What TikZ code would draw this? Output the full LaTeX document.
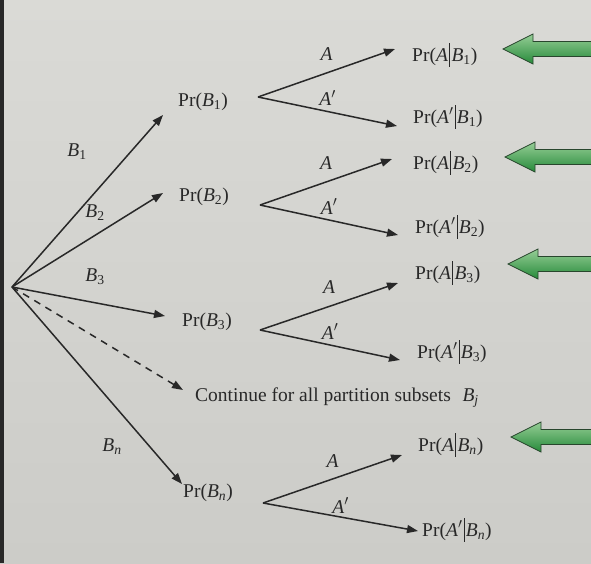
\documentclass[tikz,border=0pt]{standalone}
\usepackage{fontspec}
\setmainfont{Liberation Serif}
\usetikzlibrary{arrows.meta,positioning,calc}
\definecolor{papertop}{RGB}{218,218,214}
\definecolor{paperbot}{RGB}{204,204,200}
\definecolor{pageedge}{RGB}{40,40,40}
\definecolor{ink}{RGB}{40,40,40}
\definecolor{greenlight}{RGB}{150,206,150}
\definecolor{greendark}{RGB}{38,138,58}
\definecolor{greenedge}{RGB}{40,70,45}
\tikzset{
	lbl/.style={inner sep=0pt, anchor=west, text=ink},
	txt/.style={inner sep=0pt, text=ink},
	br/.style={->, draw=ink, line width=1.5pt},
	greenarrow/.style={draw=greenedge, line width=0.8pt, top color=greenlight, bottom color=greendark}
}
\newcommand{\gbar}{\hspace{0.06em}\rule[-0.3em]{0.06em}{1.22em}\hspace{0.06em}}
\newcommand{\prB}[1]{Pr(\textit{B}\textsubscript{#1})}
\newcommand{\prAB}[1]{Pr(\textit{A}\gbar\textit{B}\textsubscript{#1})}
\newcommand{\prNAB}[1]{Pr(\textit{A}$'$\gbar\textit{B}\textsubscript{#1})}
\begin{document}
\begin{tikzpicture}[x=1pt, y=-1pt, font=\fontsize{19.5}{23}\selectfont,
		>={Triangle[length=11pt,width=8pt]}]
	\useasboundingbox (0,0) rectangle (591,563);
	\shade[top color=papertop, bottom color=paperbot] (0,0) rectangle (591,563);
	\fill[pageedge] (0,0) rectangle (4,563);
	
	% first level
	\coordinate (o) at (12,287);
	\node[lbl] (pb1) at (178,102) {\prB{1}};
	\node[lbl] (pb2) at (179,197) {\prB{2}};
	\node[lbl] (pb3) at (182,322) {\prB{3}};
	\node[lbl] (pbn) at (183,493) {\prB{\textit{n}}};
	\node[lbl] (cont) at (195,398) {Continue for all partition subsets\hspace{0.6em}\textit{B}\textsubscript{\textit{j}}};
	
	\draw[br] (o) -- ([xshift=-15pt,yshift=-13pt]pb1.west);
	\draw[br] (o) -- ([xshift=-16pt,yshift=4pt]pb2.west);
	\draw[br] (o) -- ([xshift=-17pt,yshift=6pt]pb3.west);
	\draw[br] (o) -- ([xshift=-1pt,yshift=9pt]pbn.west);
	\draw[br, dash pattern=on 7pt off 6pt] (o) -- ([xshift=-12pt,yshift=8pt]cont.west);
	
	\node[txt] (lb1) at (77,152) {\textit{B}\textsubscript{1}};
	\node[txt] (lb2) at (95,213) {\textit{B}\textsubscript{2}};
	\node[txt] (lb3) at (95,277) {\textit{B}\textsubscript{3}};
	\node[txt] (lbn) at (112,447) {\textit{B}\textsubscript{\textit{n}}};
	
	% second level
	\coordinate (v1) at (258,97);
	\coordinate (v2) at (260,205);
	\coordinate (v3) at (260,330);
	\coordinate (vn) at (263,503);
	
	\node[lbl] (pa1) at (412,55) {\prAB{1}};
	\node[lbl] (pna1) at (413,117) {\prNAB{1}};
	\node[lbl] (pa2) at (413,163) {\prAB{2}};
	\node[lbl] (pna2) at (415,227) {\prNAB{2}};
	\node[lbl] (pa3) at (415,273) {\prAB{3}};
	\node[lbl] (pna3) at (417,352) {\prNAB{3}};
	\node[lbl] (pan) at (418,445) {\prAB{\textit{n}}};
	\node[lbl] (pnan) at (422,530) {\prNAB{\textit{n}}};
	
	\draw[br] (v1) -- node[txt, anchor=south, above=12pt] (la1) {\textit{A}} ([xshift=-17pt,yshift=6pt]pa1.west);
	\draw[br] (v1) -- node[txt, anchor=south, above=5pt] (lna1) {\textit{A}$'$} ([xshift=-16pt,yshift=-9pt]pna1.west);
	\draw[br] (v2) -- node[txt, anchor=south, above=12pt] (la2) {\textit{A}} ([xshift=-21pt,yshift=4pt]pa2.west);
	\draw[br] (v2) -- node[txt, anchor=south, above=5pt] (lna2) {\textit{A}$'$} ([xshift=-17pt,yshift=-8pt]pna2.west);
	\draw[br] (v3) -- node[txt, anchor=south, above=12pt] (la3) {\textit{A}} ([xshift=-17pt,yshift=-10pt]pa3.west);
	\draw[br] (v3) -- node[txt, anchor=south, above=5pt] (lna3) {\textit{A}$'$} ([xshift=-17pt,yshift=-8pt]pna3.west);
	\draw[br] (vn) -- node[txt, anchor=south, above=11pt] (lan) {\textit{A}} ([xshift=-16pt,yshift=-10pt]pan.west);
	\draw[br] (vn) -- node[txt, anchor=south, above=3pt] (lnan) {\textit{A}$'$} ([xshift=-4pt,yshift=-1pt]pnan.west);
	
	% green pointers
	\foreach \x/\y in {503/49, 505/157, 508/264, 511/437}
		\draw[greenarrow] (\x,\y) -- ++(30,-15) -- ++(0,7.5) -- (600,\y-7.5)
			-- (600,\y+7.5) -- (\x+30,\y+7.5) -- ++(0,7.5) -- cycle;
\end{tikzpicture}
\end{document}
